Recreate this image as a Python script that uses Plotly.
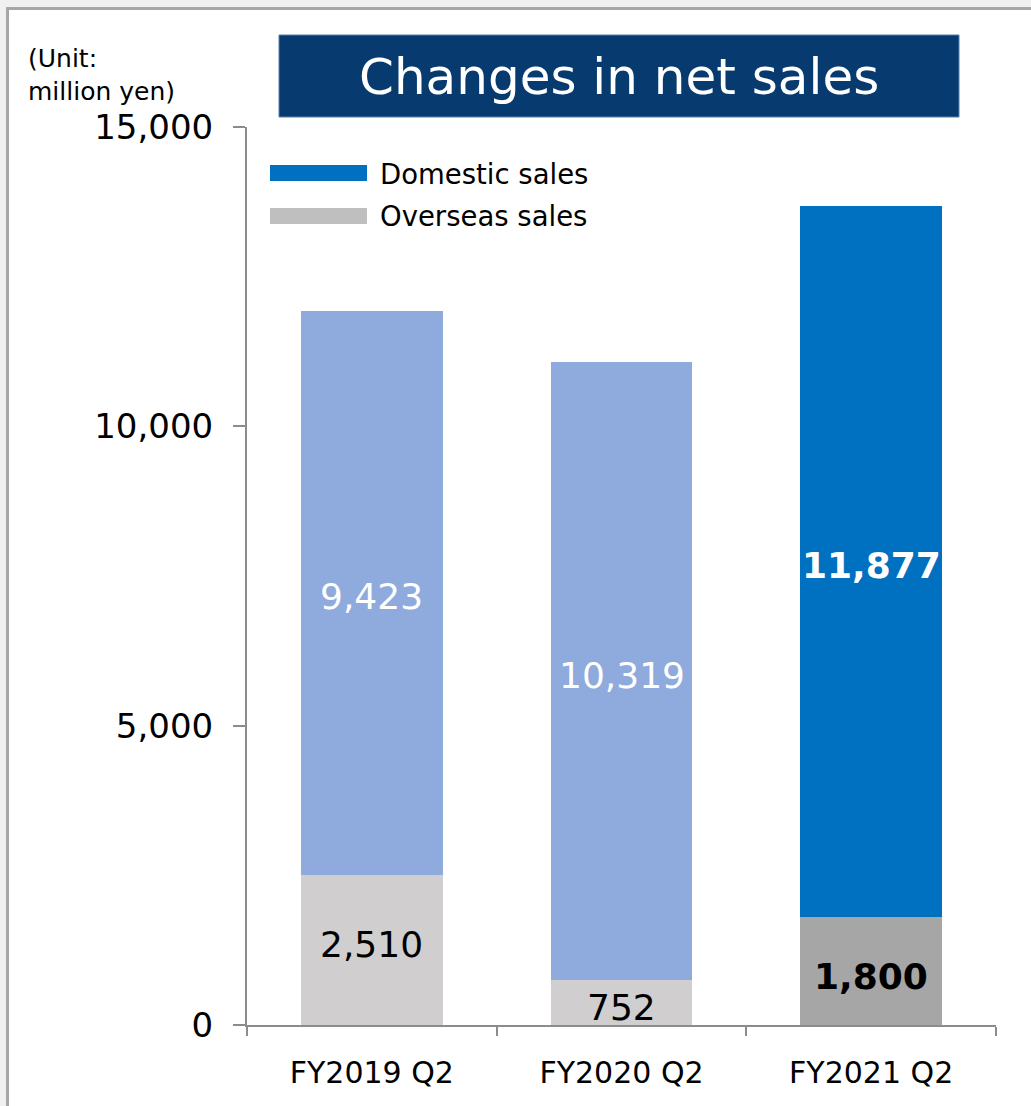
import plotly.graph_objects as go

# Half-year net sales, million yen
periods = ["FY2019 Q2", "FY2020 Q2", "FY2021 Q2"]
domestic = [9423, 10319, 11877]
overseas = [2510, 752, 1800]
y_ticks = [0, 5000, 10000, 15000]

# Styling: earlier periods muted, latest period highlighted
domestic_colors = ["#8FAADC", "#8FAADC", "#0070C0"]
overseas_colors = ["#D0CECE", "#D0CECE", "#A6A6A6"]
label_bold = [False, False, True]
overseas_label_shift = [5, -5, -5]

W, H = 1031, 1106
M_L, M_R, M_T, M_B = 247, 35, 127, 81
PW, PH = W - M_L - M_R, H - M_T - M_B
FONT = "DejaVu Sans, Verdana, sans-serif"


def px_x(px):
    return (px - M_L) / PW


def px_y(py):
    return (H - M_B - py) / PH


fig = go.Figure()
fig.add_trace(go.Bar(
    x=periods, y=overseas, name="Overseas sales",
    marker=dict(color=overseas_colors, line=dict(width=0)),
    hoverinfo="skip",
))
fig.add_trace(go.Bar(
    x=periods, y=domestic, name="Domestic sales",
    marker=dict(color=domestic_colors, line=dict(width=0)),
    hoverinfo="skip",
))


def fmt(v, bold):
    s = f"{v:,}"
    return f"<b>{s}</b>" if bold else s


annotations = []
# Segment value labels centred in each stacked piece
for p, d, o, b, sh in zip(periods, domestic, overseas, label_bold,
                          overseas_label_shift):
    annotations.append(dict(
        x=p, y=o / 2, xref="x", yref="y", text=fmt(o, b), showarrow=False,
        yshift=sh, font=dict(family=FONT, size=36, color="#000000"),
    ))
    annotations.append(dict(
        x=p, y=o + d / 2, xref="x", yref="y", text=fmt(d, b), showarrow=False,
        yshift=-4, font=dict(family=FONT, size=36, color="#FFFFFF"),
    ))

# Title banner text
annotations.append(dict(
    x=px_x(619), y=px_y(77), xref="paper", yref="paper",
    text="Changes in net sales", showarrow=False,
    xanchor="center", yanchor="middle",
    font=dict(family=FONT, size=50, color="#FFFFFF"),
))

# Unit note
annotations.append(dict(
    x=px_x(26), y=px_y(42), xref="paper", yref="paper",
    text="(Unit:<br>million yen)", showarrow=False, align="left",
    xanchor="left", yanchor="top",
    font=dict(family=FONT, size=25, color="#000000"),
))

# Legend labels
annotations.append(dict(
    x=px_x(378), y=px_y(174), xref="paper", yref="paper",
    text="Domestic sales", showarrow=False, xanchor="left", yanchor="middle",
    font=dict(family=FONT, size=27.5, color="#000000"),
))
annotations.append(dict(
    x=px_x(378), y=px_y(216), xref="paper", yref="paper",
    text="Overseas sales", showarrow=False, xanchor="left", yanchor="middle",
    font=dict(family=FONT, size=27.5, color="#000000"),
))

shapes = [
    # Outer frame of the slide panel
    dict(type="rect", xref="paper", yref="paper", layer="below",
         x0=px_x(7.5), y0=px_y(1200), x1=px_x(1200), y1=px_y(8.5),
         fillcolor="#FFFFFF", line=dict(color="#A6A6A6", width=3)),
    # Title banner
    dict(type="rect", xref="paper", yref="paper",
         x0=px_x(279), y0=px_y(117), x1=px_x(959), y1=px_y(35),
         fillcolor="#073A6E", line=dict(color="#5B7FA8", width=1)),
    # Legend swatches
    dict(type="rect", xref="paper", yref="paper",
         x0=px_x(270), y0=px_y(181), x1=px_x(367), y1=px_y(165),
         fillcolor="#0070C0", line=dict(width=0)),
    dict(type="rect", xref="paper", yref="paper",
         x0=px_x(270), y0=px_y(224), x1=px_x(367), y1=px_y(208),
         fillcolor="#BFBFBF", line=dict(width=0)),
]

fig.update_layout(
    width=W, height=H,
    margin=dict(l=M_L, r=M_R, t=M_T, b=M_B, pad=0),
    barmode="stack", bargap=0.433,
    showlegend=False,
    paper_bgcolor="#F0F0F0", plot_bgcolor="rgba(0,0,0,0)",
    font=dict(family=FONT, color="#000000"),
    annotations=annotations, shapes=shapes,
    xaxis=dict(
        showline=True, linecolor="#8C8C8C", linewidth=2,
        ticks="outside", tickson="boundaries", ticklen=9, tickwidth=2,
        tickcolor="#8C8C8C", ticklabelstandoff=20,
        tickfont=dict(family=FONT, size=30, color="#000000"),
        showgrid=False, zeroline=False, fixedrange=True,
    ),
    yaxis=dict(
        range=[0, 15000], tickvals=y_ticks,
        ticktext=[f"{v:,}" for v in y_ticks],
        showline=True, linecolor="#8C8C8C", linewidth=2,
        ticks="outside", ticklen=12, tickwidth=2, tickcolor="#8C8C8C",
        ticklabelstandoff=13,
        tickfont=dict(family=FONT, size=34, color="#000000"),
        showgrid=False, zeroline=False, fixedrange=True,
    ),
)

fig.write_html("out.html")
